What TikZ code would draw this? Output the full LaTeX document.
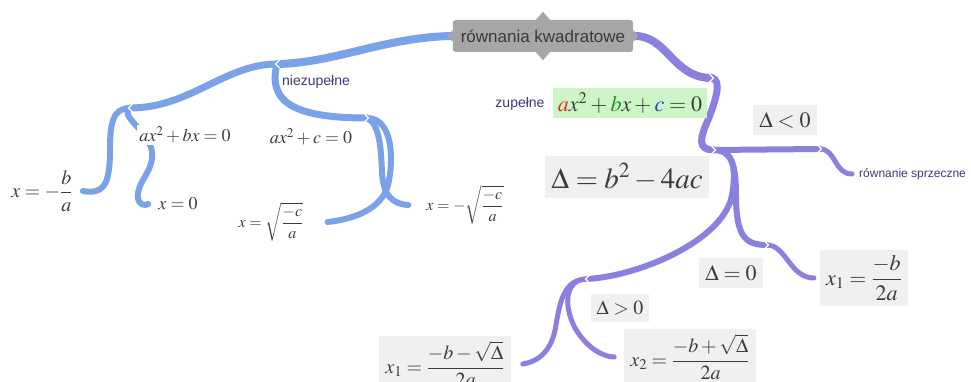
\documentclass[tikz,border=0pt]{standalone}
\usepackage{amsmath}
\usepackage{mathptmx}
\usepackage[no-math]{fontspec}
\setmainfont{Liberation Sans}
\usetikzlibrary{backgrounds}
\definecolor{mmblue}{RGB}{122,162,232}
\definecolor{mmpurple}{RGB}{138,128,224}
\definecolor{mmroot}{RGB}{166,166,166}
\definecolor{mmdark}{RGB}{58,58,58}
\definecolor{mmtext}{RGB}{58,58,128}
\definecolor{mmgray}{RGB}{60,60,60}
\definecolor{mmbox}{RGB}{240,240,240}
\definecolor{mmgreen}{RGB}{206,245,198}
\definecolor{coefa}{RGB}{220,50,30}
\definecolor{coefb}{RGB}{40,140,50}
\definecolor{coefc}{RGB}{35,60,200}

\begin{document}
\begin{tikzpicture}[x=1pt, y=-1pt,
  rootbox/.style={fill=mmroot, text=mmdark, rounded corners=3pt, inner xsep=8pt, minimum height=32pt, font=\fontsize{17}{19}\selectfont},
  bline/.style={draw=mmblue, line width=#1, line cap=round},
  pline/.style={draw=mmpurple, line width=#1, line cap=round},
  lbl/.style={text=mmtext, inner sep=1pt, font=\fontsize{14}{16}\selectfont},
  formula/.style={text=mmgray, inner sep=2pt, font=\fontsize{#1}{#1}\selectfont},
  mathbox/.style={formula=#1, fill=mmbox, inner xsep=6pt, inner ysep=7pt},
  notch/.pic={\draw[white, line width=1.3pt] (-2.5,-4) -- (1.5,0) -- (-2.5,4);}
]
\useasboundingbox (0,0) rectangle (971,382);

\node[rootbox] (root) at (543,36) {równania kwadratowe};
\fill[mmroot] ([xshift=-7pt]root.north) -- ([yshift=8pt]root.north) -- ([xshift=7pt]root.north) -- cycle;
\fill[mmroot] ([xshift=-7pt]root.south) -- ([yshift=-8pt]root.south) -- ([xshift=7pt]root.south) -- cycle;
\fill[mmroot] ([yshift=6pt]root.west) -- ([xshift=-5pt]root.west) -- ([yshift=-6pt]root.west) -- cycle;
\fill[mmroot] ([yshift=6pt]root.east) -- ([xshift=5pt]root.east) -- ([yshift=-6pt]root.east) -- cycle;

\coordinate (nz) at (277,64);
\coordinate (bx) at (130,108);
\coordinate (cc) at (367,118);
\coordinate (zp) at (712,78);
\coordinate (dl) at (714,150);
\coordinate (neg) at (820,149);
\coordinate (zr) at (767,245);
\coordinate (pos) at (587,279);

\node[lbl] (nzl) at (316,82) {niezupełne};
\node[formula=18, fill=white] (eqb) at (185,135) {$ax^2+bx=0$};
\node[formula=18] (eqc) at (311,137) {$ax^2+c=0$};
\node[formula=20] (sol1) at (42,191) {$x=-\dfrac{b}{a}$};
\node[formula=18] (sol2) at (178,204) {$x=0$};
\node[formula=16] (sol3) at (271,222) {$x=\sqrt{\dfrac{-c}{a}}$};
\node[formula=16] (sol4) at (465,205) {$x=-\sqrt{\dfrac{-c}{a}}$};

\node[lbl] (zl) at (520,104) {zupełne};
\node[formula=22, fill=mmgreen, inner xsep=5pt, inner ysep=5pt] (full) at (630,103)
  {$\textcolor{coefa}{a}x^2+\textcolor{coefb}{b}x+\textcolor{coefc}{c}=0$};
\node[mathbox=29] (delta) at (627,177) {$\Delta=b^2-4ac$};
\node[mathbox=22] (neglbl) at (785,120) {$\Delta<0$};
\node[lbl, font=\fontsize{12}{14}\selectfont, anchor=west] (sprz) at (858,174) {równanie sprzeczne};
\node[mathbox=22] (zerolbl) at (731,273) {$\Delta=0$};
\node[mathbox=22, inner ysep=5pt] (one) at (864,278) {$x_1=\dfrac{-b}{2a}$};
\node[mathbox=20] (poslbl) at (620,308) {$\Delta>0$};
\node[mathbox=20, inner ysep=5pt] (two) at (445,364) {$x_1=\dfrac{-b-\sqrt{\Delta}}{2a}$};
\node[mathbox=20, inner ysep=5pt] (three) at (690,357) {$x_2=\dfrac{-b+\sqrt{\Delta}}{2a}$};

\begin{scope}[on background layer]
\draw[bline=8pt] (root.west) .. controls (385,37) and (335,63) .. (nz);
\draw[bline=7pt] (nz) .. controls (225,64) and (190,108) .. (bx);
\draw[bline=7pt] (nz) .. controls (268,100) and (290,118) .. (cc);
\draw[bline=6pt] (bx) .. controls (112,108) and (110,125) .. (110,150) .. controls (110,188) and (102,194) .. ([xshift=8pt]sol1.east);
\draw[bline=6pt] (bx) .. controls (118,115) and (150,132) .. (152,152) .. controls (154,172) and (136,182) .. (138,198) .. controls (139,205) and (145,206) .. ([xshift=-8pt]sol2.west);
\draw[bline=6pt] (cc) .. controls (393,118) and (394,160) .. (388,185) .. controls (382,208) and (356,219) .. ([xshift=22pt]sol3.east);
\draw[bline=6pt] (cc) .. controls (380,124) and (381,150) .. (382,172) .. controls (383,195) and (392,204) .. ([xshift=-16pt]sol4.west);

\draw[pline=8pt] (root.east) .. controls (668,35) and (672,78) .. (zp);
\draw[pline=7pt] (zp) .. controls (722,80) and (716,100) .. (708,120) .. controls (700,138) and (697,150) .. (dl);
\draw[pline=6pt] (dl) -- (neg);
\draw[pline=5pt] (neg) .. controls (836,149) and (834,174) .. ([xshift=-6pt]sprz.west);
\draw[pline=6pt] (dl) .. controls (735,150) and (736,172) .. (736,200) .. controls (737,236) and (745,245) .. (zr);
\draw[pline=5pt] (zr) .. controls (786,245) and (790,278) .. ([xshift=-6pt]one.west);
\draw[pline=6pt] (dl) .. controls (735,150) and (736,172) .. (732,195) .. controls (724,240) and (640,276) .. (pos);
\draw[pline=5pt] (pos) .. controls (565,279) and (560,300) .. (556,325) .. controls (552,352) and (537,362) .. ([xshift=12pt]two.east);
\draw[pline=5pt] (pos) .. controls (565,279) and (563,305) .. (575,328) .. controls (588,350) and (605,357) .. ([xshift=-10pt]three.west);

\pic[rotate=180] at (nz) {notch};
\pic[rotate=180] at (bx) {notch};
\pic at (cc) {notch};
\pic at (zp) {notch};
\pic at (dl) {notch};
\pic at (neg) {notch};
\pic at (zr) {notch};
\pic[rotate=180] at (pos) {notch};
\end{scope}
\end{tikzpicture}
\end{document}
